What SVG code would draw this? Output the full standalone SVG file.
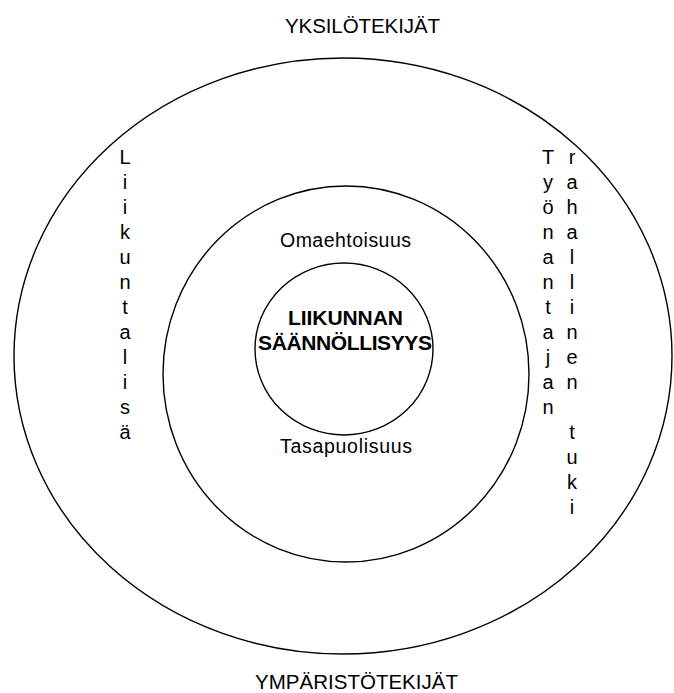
<svg xmlns="http://www.w3.org/2000/svg" width="674" height="693" viewBox="0 0 674 693">
<style>
.ring{fill:none;stroke:#000;stroke-width:1.4}
text{font-family:"Liberation Sans",Arial,sans-serif;fill:#000}
.h{font-size:20.5px}
.m{font-size:19.5px}
.b{font-size:21px;font-weight:bold}
.v{font-size:20px;text-anchor:middle}
</style>
<rect width="674" height="693" fill="#fff"/>
<g id="outer"><ellipse class="ring" cx="343" cy="356" rx="329" ry="298"/></g>
<g id="middle"><ellipse class="ring" cx="346" cy="374" rx="183" ry="188"/></g>
<g id="inner"><ellipse class="ring" cx="344" cy="349" rx="89" ry="86"/></g>
<g id="connectors"></g>
<g id="labels">
<text class="h" x="285" y="33" textLength="155" lengthAdjust="spacing">YKSILÖTEKIJÄT</text>
<text class="h" x="255" y="689" textLength="203" lengthAdjust="spacing">YMPÄRISTÖTEKIJÄT</text>
<text class="m" x="280" y="247" textLength="131" lengthAdjust="spacing">Omaehtoisuus</text>
<text class="m" x="280" y="453" textLength="132" lengthAdjust="spacing">Tasapuolisuus</text>
<text class="b" x="288" y="325" textLength="115" lengthAdjust="spacing">LIIKUNNAN</text>
<text class="b" x="258" y="350" textLength="174" lengthAdjust="spacing">SÄÄNNÖLLISYYS</text>
</g>
<g id="liikuntalisa">
<text class="v" x="125" y="164">L</text>
<text class="v" x="125" y="189">i</text>
<text class="v" x="125" y="214">i</text>
<text class="v" x="125" y="239">k</text>
<text class="v" x="125" y="264">u</text>
<text class="v" x="125" y="289">n</text>
<text class="v" x="125" y="314">t</text>
<text class="v" x="125" y="339">a</text>
<text class="v" x="125" y="364">l</text>
<text class="v" x="125" y="389">i</text>
<text class="v" x="125" y="414">s</text>
<text class="v" x="125" y="439">ä</text>
</g>
<g id="tyonantajan">
<text class="v" x="548" y="164">T</text>
<text class="v" x="548" y="189">y</text>
<text class="v" x="548" y="214">ö</text>
<text class="v" x="548" y="239">n</text>
<text class="v" x="548" y="264">a</text>
<text class="v" x="548" y="289">n</text>
<text class="v" x="548" y="314">t</text>
<text class="v" x="548" y="339">a</text>
<text class="v" x="548" y="364">j</text>
<text class="v" x="548" y="389">a</text>
<text class="v" x="548" y="414">n</text>
</g>
<g id="rahallinen-tuki">
<text class="v" x="572" y="164">r</text>
<text class="v" x="572" y="189">a</text>
<text class="v" x="572" y="214">h</text>
<text class="v" x="572" y="239">a</text>
<text class="v" x="572" y="264">l</text>
<text class="v" x="572" y="289">l</text>
<text class="v" x="572" y="314">i</text>
<text class="v" x="572" y="339">n</text>
<text class="v" x="572" y="364">e</text>
<text class="v" x="572" y="389">n</text>
<text class="v" x="572" y="439">t</text>
<text class="v" x="572" y="464">u</text>
<text class="v" x="572" y="489">k</text>
<text class="v" x="572" y="514">i</text>
</g>
</svg>
